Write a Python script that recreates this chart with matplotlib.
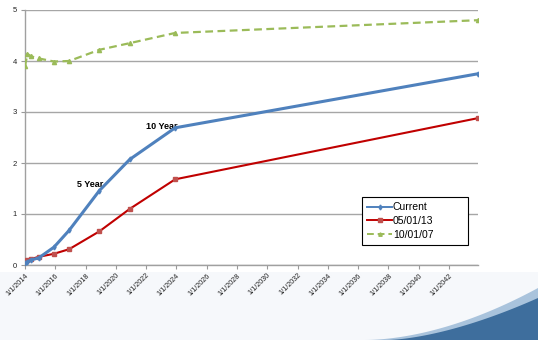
import numpy as np
import pandas as pd
import matplotlib
matplotlib.use('Agg')
import matplotlib.pyplot as plt
import matplotlib.dates as mdates
from matplotlib.patches import Polygon, Rectangle

plt.rcParams['font.family'] = ['Liberation Sans', 'DejaVu Sans']

# 数据：各期限收益率 (起点 12/1/2013 + 期限)
start = pd.Timestamp('2013-12-01')
months = [1, 3, 6, 12, 24, 36, 60, 84, 120, 360]
current = [0.04, 0.06, 0.10, 0.14, 0.35, 0.68, 1.46, 2.07, 2.69, 3.75]
may13 = [0.08, 0.10, 0.12, 0.16, 0.22, 0.31, 0.66, 1.10, 1.68, 2.88]
oct07 = [3.90, 4.14, 4.09, 4.05, 3.99, 4.00, 4.22, 4.35, 4.55, 4.80]
series_names = ['Current', '05/01/13', '10/01/07']
tick_years = list(range(2014, 2043, 2))
y_ticks = [0, 1, 2, 3, 4, 5]

dates = [start + pd.DateOffset(months=m) for m in months]

fig = plt.figure(figsize=(5.38, 3.40), dpi=100)
fig.patch.set_facecolor('white')

# 背景装饰
W, H = 538.0, 340.0
fig.add_artist(Rectangle((0, 0), 1, 68 / H, transform=fig.transFigure,
                         facecolor='#f6f8fb', edgecolor='none', zorder=-3))
t = np.linspace(0, 1, 60)
xl = 365 + 173 * t
yl = 340 - 52 * t ** 1.8
light = [(x / W, 1 - y / H) for x, y in zip(xl, yl)] + [(1, 0), (365 / W, 0)]
fig.add_artist(Polygon(light, closed=True, transform=fig.transFigure,
                       facecolor='#a9c3dc', edgecolor='none', zorder=-2))
xd = 387 + 151 * t
yd = 340 - 42 * t ** 1.6
dark = [(x / W, 1 - y / H) for x, y in zip(xd, yd)] + [(1, 0), (387 / W, 0)]
fig.add_artist(Polygon(dark, closed=True, transform=fig.transFigure,
                       facecolor='#3e6e9d', edgecolor='none', zorder=-1))

ax = fig.add_axes([25 / W, 75 / H, 453 / W, 255 / H])

ax.plot(dates, current, color='#4f81bd', lw=2.2, marker='d', ms=2.5,
        label=series_names[0], zorder=4)
ax.plot(dates, may13, color='#c00000', lw=1.5, marker='s', ms=3.2,
        mfc='#c0504d', mec='#c0504d', label=series_names[1], zorder=3)
ax.plot(dates, oct07, color='#9bbb59', lw=1.6, ls=(0, (3.5, 2)), marker='^',
        ms=3, label=series_names[2], zorder=3)

ax.annotate('5 Year', xy=(dates[6], current[6]), xytext=(3, 4),
            textcoords='offset points', ha='right', va='center',
            fontsize=6.5, fontweight='bold')
ax.annotate('10 Year', xy=(dates[8], current[8]), xytext=(1.5, 1),
            textcoords='offset points', ha='right', va='center',
            fontsize=6.5, fontweight='bold')

ax.set_xlim(dates[0], dates[-1])
ax.set_ylim(0, 5)
ax.set_yticks(y_ticks)
ax.set_xticks([pd.Timestamp(f'{y}-01-01') for y in tick_years])
ax.xaxis.set_major_formatter(
    plt.FuncFormatter(lambda v, p: (lambda d: f'{d.month}/{d.day}/{d.year}')(mdates.num2date(v))))
plt.setp(ax.get_xticklabels(), rotation=45, ha='right', rotation_mode='anchor')
ax.tick_params(axis='x', labelsize=5.2, colors='#999999', labelcolor='#222222',
               length=3, width=0.8, pad=2)
ax.tick_params(axis='y', labelsize=5.5, colors='#999999', labelcolor='#222222',
               length=3, width=0.8, pad=3)

ax.grid(axis='y', color='#a6a6a6', lw=1)
ax.set_axisbelow(True)
for s in ['top', 'right']:
    ax.spines[s].set_visible(False)
for s in ['left', 'bottom']:
    ax.spines[s].set_color('#a0a0a0')
    ax.spines[s].set_linewidth(1)

leg = ax.legend(loc='lower left',
                bbox_to_anchor=(362 / W, 1 - 245 / H, 106 / W, 52 / H),
                bbox_transform=fig.transFigure, mode='expand', fontsize=7.5,
                fancybox=False, framealpha=1, edgecolor='black',
                handlelength=2.4, handletextpad=0.05, borderpad=0.5,
                labelspacing=0.35, borderaxespad=0)
leg.get_frame().set_linewidth(0.8)
for line in leg.get_lines():
    line.set_linewidth(1.4)
    line.set_markersize(2.5)

fig.savefig('out.png', dpi=100)
